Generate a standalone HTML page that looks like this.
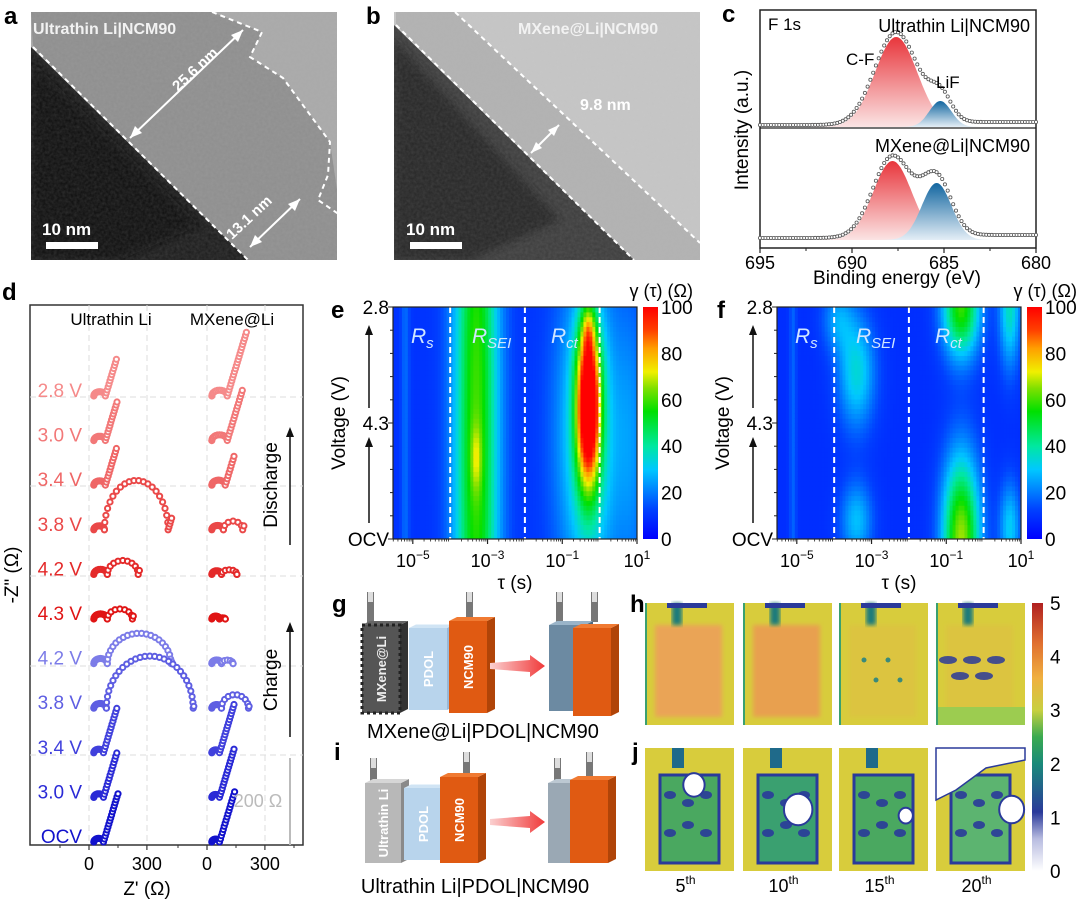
<!DOCTYPE html>
<html><head><meta charset="utf-8">
<style>
html,body{margin:0;padding:0;background:#fff;}
svg text{font-family:"Liberation Sans",Arial,sans-serif;}
</style></head>
<body>
<svg id="fig" xmlns="http://www.w3.org/2000/svg" width="1080" height="901" viewBox="0 0 1080 901">
<defs>
  <filter id="noise" x="0" y="0" width="100%" height="100%">
    <feTurbulence type="fractalNoise" baseFrequency="0.35" numOctaves="2" seed="3"/>
    <feColorMatrix type="matrix" values="0 0 0 0 0.5  0 0 0 0 0.5  0 0 0 0 0.5  0 0 0 0.55 0"/>
    <feComposite in2="SourceGraphic" operator="in"/>
  </filter>
  <filter id="blur2"><feGaussianBlur stdDeviation="2"/></filter>
  <filter id="blur4"><feGaussianBlur stdDeviation="4"/></filter>
  <linearGradient id="gRed" x1="0" y1="0" x2="0" y2="1">
    <stop offset="0" stop-color="#e8363c"/><stop offset="1" stop-color="#fbe4e4"/>
  </linearGradient>
  <linearGradient id="gBlue" x1="0" y1="0" x2="0" y2="1">
    <stop offset="0" stop-color="#1266a0"/><stop offset="1" stop-color="#e4eef6"/>
  </linearGradient>
  <linearGradient id="gJet" x1="0" y1="1" x2="0" y2="0">
    <stop offset="0" stop-color="#0000ff"/><stop offset="0.125" stop-color="#0040ff"/>
    <stop offset="0.3" stop-color="#00c8ff"/><stop offset="0.4" stop-color="#00e8a0"/>
    <stop offset="0.55" stop-color="#00e000"/><stop offset="0.65" stop-color="#80e000"/>
    <stop offset="0.72" stop-color="#f0f000"/><stop offset="0.82" stop-color="#ffa000"/>
    <stop offset="0.9" stop-color="#ff4000"/><stop offset="1" stop-color="#ff0000"/>
  </linearGradient>
  <linearGradient id="gMap" x1="0" y1="1" x2="0" y2="0">
    <stop offset="0" stop-color="#ffffff"/><stop offset="0.12" stop-color="#b8bce0"/>
    <stop offset="0.22" stop-color="#2a3a9a"/><stop offset="0.4" stop-color="#1a8a7a"/>
    <stop offset="0.5" stop-color="#3aaa50"/><stop offset="0.6" stop-color="#c8d040"/>
    <stop offset="0.72" stop-color="#f0b040"/><stop offset="0.85" stop-color="#e07030"/>
    <stop offset="1" stop-color="#b02020"/>
  </linearGradient>
  <linearGradient id="gArrow" x1="0" y1="0" x2="1" y2="0">
    <stop offset="0" stop-color="#fbd0d0"/><stop offset="1" stop-color="#f03a3a"/>
  </linearGradient>
  <clipPath id="clipA"><rect x="31" y="12" width="306" height="248"/></clipPath>
  <clipPath id="clipB"><rect x="394" y="12" width="306" height="248"/></clipPath>
  <clipPath id="clipE"><rect x="393" y="307" width="244" height="232"/></clipPath>
  <clipPath id="clipF"><rect x="777" y="307" width="244" height="232"/></clipPath>
</defs>

<g clip-path="url(#clipA)">
  <rect x="31" y="12" width="306" height="248" fill="#a9a9a9"/>
  <polygon points="31,12 212,12 262,32 250,57 283,78 330,142 340,210 340,260 248,260 33,47" fill="#8e8e8e"/>
  <polygon points="31,47 248,260 31,260" fill="#1a1a1a"/>
  <polygon points="31,60 200,225 120,260 31,260" fill="#0e0e0e" filter="url(#blur4)"/>
  <rect x="31" y="12" width="306" height="248" fill="#888" filter="url(#noise)" opacity="0.35"/>
  <line x1="33" y1="47" x2="248" y2="260" stroke="#fff" stroke-width="2" stroke-dasharray="5,4"/>
  <polyline points="212,12 262,32 250,57 283,78 330,142 328,175 318,200 340,215" fill="none" stroke="#fff" stroke-width="2" stroke-dasharray="5,4"/>
  <line x1="130" y1="138" x2="243" y2="30" stroke="#fff" stroke-width="2"/>
  <polygon points="243,30 231,35 238,42" fill="#fff"/>
  <polygon points="130,138 135,126 142,133" fill="#fff"/>
  <line x1="250" y1="247" x2="300" y2="199" stroke="#fff" stroke-width="2"/>
  <polygon points="300,199 288,204 295,211" fill="#fff"/>
  <polygon points="250,247 255,235 262,242" fill="#fff"/>
  <text x="33" y="34" font-size="16" font-weight="bold" fill="#f2f2f2">Ultrathin Li|NCM90</text>
  <text x="178" y="92" font-size="15" font-weight="bold" fill="#fff" transform="rotate(-43 178 92)">25.6 nm</text>
  <text x="232" y="240" font-size="15" font-weight="bold" fill="#fff" transform="rotate(-43 232 240)">13.1 nm</text>
  <text x="42" y="235" font-size="17" font-weight="bold" fill="#fff">10 nm</text>
  <rect x="46" y="242" width="52" height="7" fill="#fff"/>
</g>
<text x="4" y="24" font-size="24" font-weight="bold">a</text>

<g clip-path="url(#clipB)">
  <rect x="394" y="12" width="306" height="248" fill="#c6c6c6"/>
  <polygon points="396,12 455,12 700,243 700,260 634,260 396,25" fill="#b2b2b2"/>
  <polygon points="394,25 634,260 394,260" fill="#3c3c3c"/>
  <polygon points="394,40 560,220 470,260 394,260" fill="#262626" filter="url(#blur4)"/>
  <rect x="394" y="12" width="306" height="248" fill="#888" filter="url(#noise)" opacity="0.3"/>
  <line x1="396" y1="25" x2="634" y2="260" stroke="#fff" stroke-width="2" stroke-dasharray="5,4"/>
  <line x1="455" y1="12" x2="700" y2="243" stroke="#fff" stroke-width="2" stroke-dasharray="5,4"/>
  <line x1="531" y1="153" x2="559" y2="125" stroke="#fff" stroke-width="2"/>
  <polygon points="559,125 548,130 554,136" fill="#fff"/>
  <polygon points="531,153 536,142 542,148" fill="#fff"/>
  <text x="580" y="110" font-size="16" font-weight="bold" fill="#fff">9.8 nm</text>
  <text x="518" y="34" font-size="16" font-weight="bold" fill="#f2f2f2">MXene@Li|NCM90</text>
  <text x="406" y="235" font-size="17" font-weight="bold" fill="#fff">10 nm</text>
  <rect x="410" y="242" width="52" height="7" fill="#fff"/>
</g>
<text x="366" y="24" font-size="24" font-weight="bold">b</text>

<text x="722" y="22" font-size="24" font-weight="bold">c</text>
<g id="xps"></g>

<text x="2" y="300" font-size="24" font-weight="bold">d</text>
<g id="eis"></g>

<text x="331" y="318" font-size="24" font-weight="bold">e</text>
<text x="717" y="318" font-size="24" font-weight="bold">f</text>
<g id="drtE"></g>
<g id="drtF"></g>

<text x="332" y="612" font-size="24" font-weight="bold">g</text>
<text x="334" y="760" font-size="24" font-weight="bold">i</text>
<g id="schem"></g>
<text x="483" y="738" font-size="20" text-anchor="middle">MXene@Li|PDOL|NCM90</text>
<text x="475" y="893" font-size="20" text-anchor="middle">Ultrathin Li|PDOL|NCM90</text>

<text x="630" y="612" font-size="24" font-weight="bold">h</text>
<text x="632" y="760" font-size="24" font-weight="bold">j</text>
<g id="maps"></g>
</svg>

<script>
const NS='http://www.w3.org/2000/svg';
function mk(parent,tag,attrs,txt){const e=document.createElementNS(NS,tag);for(const k in attrs)e.setAttribute(k,attrs[k]);if(txt!==undefined)e.textContent=txt;parent.appendChild(e);return e;}

/* ---------- XPS data (panel c) ---------- */
const xpsEnergyTicks=[695,690,685,680];
const xpsPeakCenters=[[687.6,685.2],[687.8,685.4]];
const xpsPeakAmps=[[0.90,0.26],[0.79,0.57]];
const xpsPeakWidths=[[1.15,0.6],[1.05,0.8]];
const xpsPanelTitles=['Ultrathin Li|NCM90','MXene@Li|NCM90'];

(function(){
  const g=document.getElementById('xps');
  const L=760,R=1036,T=10,B=248,MID=128;
  const xs=e=>L+(695-e)*(R-L)/15;
  const bases=[127,240],scale=[100,100];
  mk(g,'rect',{x:L,y:T,width:R-L,height:B-T,fill:'none',stroke:'#222','stroke-width':1.5});
  mk(g,'line',{x1:L,y1:MID,x2:R,y2:MID,stroke:'#222','stroke-width':1.2});
  for(let p=0;p<2;p++){
    const base=bases[p],sc=scale[p];
    const gauss=(e,k)=>xpsPeakAmps[p][k]*Math.exp(-0.5*Math.pow((e-xpsPeakCenters[p][k])/xpsPeakWidths[p][k],2));
    for(let k=0;k<2;k++){
      let d='M'+xs(695)+','+base;
      for(let e=695;e>=680;e-=0.05){d+=' L'+xs(e).toFixed(1)+','+(base-sc*gauss(e,k)).toFixed(1);}
      d+=' L'+xs(680)+','+base+' Z';
      const pk=mk(g,'path',{d:d,fill:k===0?'url(#gRed)':'url(#gBlue)'});
      
      
    }
    for(let e=695;e>=680;e-=0.15){
      const bg=0.03/(1+Math.exp((e-689.6)/0.5));
      const v=gauss(e,0)+gauss(e,1)+bg;
      const c=mk(g,'circle',{cx:xs(e).toFixed(1),cy:(base-2-sc*v).toFixed(1),r:1.6,fill:'#fff',stroke:'#555','stroke-width':0.8});
      
      
    }
    const t=mk(g,'text',{x:1030,y:p===0?32:152,'font-size':18,'text-anchor':'end'},xpsPanelTitles[p]);
    
    
  }
  let t=mk(g,'text',{x:768,y:30,'font-size':17},'F 1s');
  t=mk(g,'text',{x:846,y:65,'font-size':17},'C-F');
  t=mk(g,'text',{x:936,y:88,'font-size':17},'LiF');
  xpsEnergyTicks.forEach(e=>{
    mk(g,'line',{x1:xs(e),y1:B,x2:xs(e),y2:B+5,stroke:'#222','stroke-width':1.2});
    const tt=mk(g,'text',{x:xs(e),y:B+21,'font-size':18,'text-anchor':'middle'},String(e));
    
    
  });
  for(let e=692.5;e>680;e-=5){mk(g,'line',{x1:xs(e),y1:B,x2:xs(e),y2:B+3,stroke:'#222','stroke-width':1});}
  t=mk(g,'text',{x:897,y:284,'font-size':19,'text-anchor':'middle'},'Binding energy (eV)');
  t=mk(g,'text',{x:748,y:130,'font-size':19,'text-anchor':'middle',transform:'rotate(-90 748 130)'},'Intensity (a.u.)');
})();

/* ---------- EIS data (panel d) ---------- */
const eisLabels=['2.8 V','3.0 V','3.4 V','3.8 V','4.2 V','4.3 V','4.2 V','3.8 V','3.4 V','3.0 V','OCV'];
const eisColors=['#f58a8a','#f27878','#ef6666','#ea4848','#e42a2a','#e01414','#7c7ce8','#5e5ee2','#4040dc','#2a2ad6','#1212cc'];
const eisUltraRsei=[60,60,60,55,70,70,70,65,50,50,50];
const eisUltraRct=[0,0,0,330,160,130,330,450,0,0,0];
const eisUltraArcH=[0,0,0,1.55,0.9,0.8,0.95,1.2,0,0,0];
const eisUltraTail=[190,200,190,60,20,15,10,10,230,230,250];
const eisMxRsei=[80,80,70,60,50,40,50,50,40,40,40];
const eisMxRct=[0,0,0,100,80,30,60,140,0,0,0];
const eisMxArcH=[0,0,0,0.9,0.6,0.4,0.6,1.0,0,0,0];
const eisMxTail=[330,260,150,20,0,0,0,10,250,250,260];
const eisXTicks=[0,300];

(function(){
  const g=document.getElementById('eis');
  const L=30,R=303,T=305,B=845;
  const k=0.193, ox=[89,207], rowY0=390, dy=44.6, Rs=25;
  mk(g,'rect',{x:L,y:T,width:R-L,height:B-T,fill:'none',stroke:'#333','stroke-width':1.5});
  [89,147,207,265].forEach(x=>mk(g,'line',{x1:x,y1:T,x2:x,y2:B,stroke:'#ddd','stroke-width':1,'stroke-dasharray':'6,4'}));
  [397,486,576,666,755].forEach(y=>mk(g,'line',{x1:L,y1:y,x2:R,y2:y,stroke:'#ddd','stroke-width':1,'stroke-dasharray':'6,4'}));
  function curve(i,side){
    const rsei=side?eisMxRsei[i]:eisUltraRsei[i], rct=side?eisMxRct[i]:eisUltraRct[i];
    const ah=side?eisMxArcH[i]:eisUltraArcH[i], tail=side?eisMxTail[i]:eisUltraTail[i];
    const pts=[];
    for(let a=Math.PI;a>=0;a-=0.26){pts.push([Rs+rsei/2+rsei/2*Math.cos(a),0.75*rsei/2*Math.sin(a)]);}
    let x0=Rs+rsei;
    if(rct>0){const n=Math.max(6,Math.round(rct/16));for(let j=0;j<=n;j++){const a=Math.PI*(1-j/n);pts.push([x0+rct/2+rct/2*Math.cos(a),ah*rct/2*Math.sin(a)]);}x0+=rct;}
    const n2=Math.max(1,Math.round(tail/16));
    for(let j=1;j<=n2;j++){pts.push([x0+tail*0.3*j/n2,tail*j/n2]);}
    return pts;
  }
  for(let i=0;i<11;i++){
    const by=rowY0+i*dy;
    const t=mk(g,'text',{x:82,y:by+7,'font-size':19,'text-anchor':'end',fill:eisColors[i]},eisLabels[i]);
    
    
    for(let s=0;s<2;s++){
      const pts=curve(i,s);
      pts.forEach(p=>{
        const c=mk(g,'circle',{cx:(ox[s]+p[0]*k).toFixed(1),cy:(by+6-p[1]*k).toFixed(1),r:2.6,fill:'#fff',stroke:eisColors[i],'stroke-width':2});
        
        
      });
    }
  }
  let t=mk(g,'text',{x:111,y:325,'font-size':17,'text-anchor':'middle'},'Ultrathin Li');
  t=mk(g,'text',{x:232,y:325,'font-size':17,'text-anchor':'middle'},'MXene@Li');
  [0,1].forEach(s=>eisXTicks.forEach(v=>{
    const x=ox[s]+v*k;
    mk(g,'line',{x1:x,y1:B,x2:x,y2:B+5,stroke:'#333','stroke-width':1.2});
    const tt=mk(g,'text',{x:x,y:B+25,'font-size':18,'text-anchor':'middle'},String(v));
    
    
  }));
  [60,118,178,236,294].forEach(x=>mk(g,'line',{x1:x,y1:B,x2:x,y2:B+3,stroke:'#333','stroke-width':1}));
  t=mk(g,'text',{x:147,y:895,'font-size':19,'text-anchor':'middle'},"Z' (Ω)");
  t=mk(g,'text',{x:18,y:575,'font-size':19,'text-anchor':'middle',transform:'rotate(-90 18 575)'},'-Z" (Ω)');
  mk(g,'line',{x1:290,y1:758,x2:290,y2:845,stroke:'#bbb','stroke-width':2});
  t=mk(g,'text',{x:258,y:807,'font-size':18,fill:'#bbb','text-anchor':'middle'},'200 Ω');
  [[545,427,'Discharge',485],[737,622,'Charge',680]].forEach(a=>{
    mk(g,'line',{x1:290,y1:a[0],x2:290,y2:a[1]+8,stroke:'#111','stroke-width':1.5});
    mk(g,'polygon',{points:`290,${a[1]} 286,${a[1]+10} 294,${a[1]+10}`,fill:'#111'});
    const tt=mk(g,'text',{x:277,y:a[3],'font-size':19,'text-anchor':'middle',transform:`rotate(-90 277 ${a[3]})`},a[2]);
    
    
  });
})();

/* ---------- DRT heatmaps (panels e, f) ---------- */
const drtE_logTau=[-3.3,-3.3,-0.3,-0.3,-0.3,-5.2,0.9];
const drtE_pos=[0.5,0.35,0.58,0.45,0.9,0.5,0.4];
const drtE_sx=[0.42,0.1,0.22,0.6,0.12,0.08,0.3];
const drtE_sy=[1.4,0.1,0.24,0.5,0.08,3,0.5];
const drtE_amp=[50,14,95,30,20,8,10];
const drtF_logTau=[-3.4,-3.4,-0.6,-0.6,0.7,0.7,-5.1,-3.9];
const drtF_pos=[0.72,0.08,1.0,0.0,1.0,0.05,0.5,0.95];
const drtF_sx=[0.35,0.3,0.35,0.35,0.2,0.2,0.07,0.3];
const drtF_sy=[0.17,0.12,0.15,0.25,0.18,0.14,3,0.1];
const drtF_amp=[25,20,50,58,28,22,8,15];
const drtTauTicks=[-5,-3,-1,1];
const drtColorTicks=[0,20,40,60,80,100];
const drtVoltLabels=['2.8','4.3','OCV'];

const jetStops=[[0,[0,0,255]],[0.125,[0,64,255]],[0.3,[0,200,255]],[0.4,[0,232,160]],[0.55,[0,224,0]],[0.65,[128,224,0]],[0.72,[240,240,0]],[0.82,[255,160,0]],[0.9,[255,64,0]],[1,[255,0,0]]];
function jet(v){v=Math.max(0,Math.min(1,v));
  for(let i=1;i<jetStops.length;i++){if(v<=jetStops[i][0]){const a=jetStops[i-1],b=jetStops[i],f=(v-a[0])/(b[0]-a[0]);
    return 'rgb('+[0,1,2].map(c=>Math.round(a[1][c]+(b[1][c]-a[1][c])*f)).join(',')+')';}}
  return 'rgb(255,0,0)';}

function drawDRT(id,L,lt,ps,sx,sy,amp,bgVal,dashes,labelX){
  const g=document.getElementById(id);
  const R=L+244,T=307,B=539,lmin=-5.53,lmax=1;
  const xs=l=>L+(l-lmin)*(R-L)/(lmax-lmin);
  const ys=p=>B-p*(B-T);
  const nx=82,ny=48,cw=(R-L)/nx,ch=(B-T)/ny;
  const hm=mk(g,'g',{'clip-path':'url(#clip'+(id==='drtE'?'E':'F')+')'});
  for(let i=0;i<nx;i++)for(let j=0;j<ny;j++){
    const l=lmin+(i+0.5)/nx*(lmax-lmin),p=(j+0.5)/ny;
    let v=bgVal;
    for(let k=0;k<lt.length;k++){v+=amp[k]*Math.exp(-0.5*(Math.pow((l-lt[k])/sx[k],2)+Math.pow((p-ps[k])/sy[k],2)));}
    const c=mk(hm,'rect',{x:(L+i*cw).toFixed(2),y:(B-(j+1)*ch).toFixed(2),width:(cw+0.6).toFixed(2),height:(ch+0.6).toFixed(2),fill:jet(v/100)});
    
    
  }
  dashes.forEach(l=>mk(g,'line',{x1:xs(l),y1:T,x2:xs(l),y2:B,stroke:'#fff','stroke-width':2,'stroke-dasharray':'6,4'}));
  mk(g,'rect',{x:L,y:T,width:R-L,height:B-T,fill:'none',stroke:'#222','stroke-width':1.2});
  [['R','s',labelX[0]],['R','SEI',labelX[1]],['R','ct',labelX[2]]].forEach(r=>{
    const t=mk(g,'text',{x:r[2],y:343,'font-size':21,'font-style':'italic',fill:'#cfe6ff'});
    
    
    mk(t,'tspan',{},r[0]);mk(t,'tspan',{'font-size':15,dy:5},r[1]);
  });
  drtTauTicks.forEach(l=>{
    mk(g,'line',{x1:xs(l),y1:B,x2:xs(l),y2:B+5,stroke:'#222','stroke-width':1.2});
    const t=mk(g,'text',{x:xs(l),y:B+28,'font-size':18,'text-anchor':'middle'});
    
    
    mk(t,'tspan',{},'10');mk(t,'tspan',{'font-size':12,dy:-8},(l<0?'−':'')+Math.abs(l));
  });
  for(let d=-6;d<=0;d++)for(let m=2;m<10;m++){const l=d+Math.log10(m);if(l>lmin)mk(g,'line',{x1:xs(l),y1:B,x2:xs(l),y2:B+2.5,stroke:'#222','stroke-width':0.8});}
  for(let j=0;j<=10;j++){const y=ys(j/10);mk(g,'line',{x1:L-(j%5===0?5:3),y1:y,x2:L,y2:y,stroke:'#222','stroke-width':1});}
  [[1,drtVoltLabels[0]],[0.5,drtVoltLabels[1]],[0,drtVoltLabels[2]]].forEach(v=>{
    const t=mk(g,'text',{x:L-4,y:ys(v[0])+7,'font-size':19,'text-anchor':'end'},v[1]);
    
    
  });
  let t=mk(g,'text',{x:(L+R)/2,y:589,'font-size':19,'text-anchor':'middle'},'τ (s)');
  t=mk(g,'text',{x:L-48,y:423,'font-size':19,'text-anchor':'middle',transform:`rotate(-90 ${L-48} 423)`},'Voltage (V)');
  [[523,437],[408,325]].forEach(a=>{
    mk(g,'line',{x1:L-24,y1:a[0],x2:L-24,y2:a[1]+8,stroke:'#111','stroke-width':1.5});
    mk(g,'polygon',{points:`${L-24},${a[1]} ${L-28},${a[1]+10} ${L-20},${a[1]+10}`,fill:'#111'});
  });
  const cx=R+6;
  const cb=mk(g,'rect',{x:cx,y:T,width:15,height:B-T,fill:'url(#gJet)'});
  
  
  drtColorTicks.forEach(v=>{
    const y=B-v/100*(B-T);
    const tt=mk(g,'text',{x:cx+18,y:y+7,'font-size':19},String(v));
    
    
  });
  t=mk(g,'text',{x:cx+50,y:297,'font-size':18,'text-anchor':'end'},'γ (τ) (Ω)');
}
drawDRT('drtE',393,drtE_logTau,drtE_pos,drtE_sx,drtE_sy,drtE_amp,10,[-4,-2,0],[411,472,551]);
drawDRT('drtF',777,drtF_logTau,drtF_pos,drtF_sx,drtF_sy,drtF_amp,9,[-4,-2,0],[795,856,935]);

/* ---------- schematics (g, i) ---------- */
(function(){
  const g=document.getElementById('schem');
  function slab(x,y,w,h,d,front,side,top,label,lc){
    mk(g,'polygon',{points:`${x+w},${y} ${x+w+d},${y-d*0.5} ${x+w+d},${y+h-d*0.5} ${x+w},${y+h}`,fill:side});
    mk(g,'polygon',{points:`${x},${y} ${x+d},${y-d*0.5} ${x+w+d},${y-d*0.5} ${x+w},${y}`,fill:top});
    const r=mk(g,'rect',{x:x,y:y,width:w,height:h,fill:front});
    
    
    if(label){const cx=x+w/2,cy=y+h/2;const t=mk(g,'text',{x:cx,y:cy+5,'font-size':13,'font-weight':'bold',fill:lc,'text-anchor':'middle',transform:`rotate(-90 ${cx} ${cy})`},label);}
  }
  function tab(x,y,h){mk(g,'rect',{x:x,y:y,width:7,height:h,fill:'#777'});mk(g,'rect',{x:x+1,y:y,width:5,height:10,fill:'#ddd'});}
  tab(367,592,33);tab(466,592,29);
  slab(362,625,38,88,8,'#555','#333','#666','MXene@Li','#eee');
  mk(g,'rect',{x:362,y:625,width:38,height:88,fill:'none',stroke:'#222','stroke-width':3,'stroke-dasharray':'3,3'});
  slab(409,628,38,82,7,'#b8d4ec','#9ab8d6','#d0e4f4','PDOL','#fff');
  slab(449,621,38,92,8,'#e05a12','#b04408','#f07a32','NCM90','#fff');
  mk(g,'polygon',{points:'490,663 530,660 530,655 545,666 530,677 530,672 490,669',fill:'url(#gArrow)'});
  tab(556,592,33);tab(591,592,30);
  slab(549,625,36,86,8,'#6c8aa2','#4e6a80','#9ab4c8');
  slab(573,628,38,88,8,'#e05a12','#b04408','#f07a32');
  tab(370,758,25);tab(463,752,25);
  slab(365,783,36,80,8,'#b8b8b8','#8a8a8a','#d6d6d6','Ultrathin Li','#fff');
  slab(404,788,38,72,7,'#b8d4ec','#9ab8d6','#d0e4f4','PDOL','#fff');
  slab(440,777,38,86,8,'#e05a12','#b04408','#f07a32','NCM90','#fff');
  mk(g,'polygon',{points:'490,819 530,816 530,811 545,822 530,833 530,828 490,825',fill:'url(#gArrow)'});
  tab(554,758,25);tab(586,752,25);
  slab(548,783,34,80,8,'#9aa8b4','#76848e','#bcc8d2');
  slab(570,780,38,83,8,'#e05a12','#b04408','#f07a32');
})();

/* ---------- thermal maps (h, j) ---------- */
const mapCycles=['5','10','15','20'];
const mapHInner=['#eaa456','#e8a050','#dcc440','#dcc440'];
const mapJInner=['#4aa860','#3aa070','#4aa860','#5cb470'];
const mapJWhite=[[0.55,0.3,0.12],[0.62,0.5,0.16],[0.75,0.55,0.08],[0.85,0.5,0.14]];
const mapColorTicks=[0,1,2,3,4,5];
(function(){
  const g=document.getElementById('maps');
  const xs=[645,743,839,936],W=89;
  xs.forEach((x,i)=>{
    let r=mk(g,'rect',{x:x,y:603,width:W,height:122,fill:'#d8cc3c'});
    
    
    mk(g,'rect',{x:x+10,y:625,width:W-22,height:92,fill:mapHInner[i],filter:'url(#blur2)'});
    mk(g,'rect',{x:x+27,y:603,width:10,height:22,fill:'#1f7a7a',filter:'url(#blur2)'});
    mk(g,'rect',{x:x+22,y:603,width:40,height:5,fill:'#2a3a9a'});
    if(i===3){for(let k=0;k<5;k++)mk(g,'ellipse',{cx:x+12+k*12,cy:660+(k%2)*16,rx:9,ry:4,fill:'#2a3a9a',opacity:0.85});mk(g,'rect',{x:x,y:707,width:W,height:18,fill:'#9ccc50'});}
    if(i===2){for(let k=0;k<4;k++)mk(g,'circle',{cx:x+25+k*12,cy:660+(k%2)*20,r:2.5,fill:'#3a8a7a'});}
    mk(g,'rect',{x:x,y:603,width:2,height:122,fill:'#3aa070'});
    r=mk(g,'rect',{x:x,y:748,width:W,height:123,fill:'#d8cc3c'});
    
    
    mk(g,'rect',{x:x+15,y:775,width:W-30,height:88,fill:mapJInner[i],stroke:'#2a3a9a','stroke-width':3});
    for(let k=0;k<6;k++)mk(g,'ellipse',{cx:x+25+(k%3)*18,cy:795+Math.floor(k/3)*30+(k%2)*8,rx:6,ry:4,fill:'#2a3a9a',opacity:0.9});
    const wb=mapJWhite[i];
    mk(g,'ellipse',{cx:x+wb[0]*W,cy:748+wb[1]*123,rx:wb[2]*W,ry:wb[2]*123*0.8,fill:'#fff',stroke:'#2a3a9a','stroke-width':2});
    mk(g,'rect',{x:x+27,y:748,width:12,height:20,fill:'#1f6a8a'});
    if(i===3){mk(g,'polygon',{points:`${x},748 ${x+W},748 ${x+W},760 ${x+50},768 ${x+20},790 ${x},800`,fill:'#fff',stroke:'#2a3a9a','stroke-width':1.5});}
    const t=mk(g,'text',{x:x+W/2-4,y:892,'font-size':18,'text-anchor':'middle'});
    
    
    mk(t,'tspan',{},mapCycles[i]);mk(t,'tspan',{'font-size':12,dy:-8},'th');
  });
  const cb=mk(g,'rect',{x:1032,y:603,width:11,height:268,fill:'url(#gMap)'});
  
  
  mapColorTicks.forEach(v=>{
    const y=871-v/5*268;
    const t=mk(g,'text',{x:1050,y:y+7,'font-size':19},String(v));
    
    
  });
})();
</script>
</body></html>
